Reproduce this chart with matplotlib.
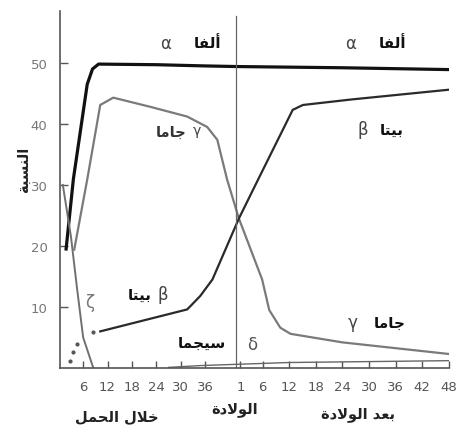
import numpy as np
import matplotlib
matplotlib.use("Agg")
import matplotlib.pyplot as plt

# postnatal weeks are drawn on the same axis, just after birth
BIRTH_X = 43.6
POST_SCALE = 1.09


def post(p):
    return BIRTH_X + POST_SCALE * np.asarray(p, dtype=float)


# ---- data (percent of globin chains) ----
alpha_pre_w = [1.8, 3.6, 7.0, 8.3, 9.8, 24, 36]
alpha_pre_v = [19.5, 31.0, 46.5, 49.0, 49.8, 49.7, 49.5]
alpha_post_p = [0, 24, 48]
alpha_post_v = [49.4, 49.2, 48.9]

gamma_pre_w = [3.8, 7.0, 10.2, 12.6, 13.4, 22.5, 31.6, 36.5, 39.0, 41.4]
gamma_pre_v = [19.4, 30.9, 43.1, 44.0, 44.3, 42.8, 41.2, 39.5, 37.4, 30.9]
gamma_post_p = [0.65, 5.9, 7.5, 10.0, 12.3, 24, 48]
gamma_post_v = [24.5, 14.5, 9.5, 6.6, 5.6, 4.2, 2.3]

beta_dots_w = [2.8, 3.5, 4.5, 8.5]
beta_dots_v = [1.1, 2.6, 3.9, 5.9]
beta_pre_w = [10.2, 31.6, 34.8, 37.8]
beta_pre_v = [6.0, 9.6, 11.8, 14.5]
beta_post_p = [0.65, 5.0, 12.8, 15.1, 26, 48]
beta_post_v = [24.5, 30.9, 42.3, 43.1, 44.0, 45.6]

zeta_w = [1.0, 3.0, 4.5, 6.0, 8.5]
zeta_v = [30.0, 21.5, 13.0, 5.0, 0.0]

delta_pre_w = [27, 35]
delta_pre_v = [0.1, 0.4]
delta_post_p = [0, 12, 48]
delta_post_v = [0.6, 0.9, 1.2]

pre_ticks = [6, 12, 18, 24, 30, 36]
post_ticks = [1, 6, 12, 18, 24, 30, 36, 42, 48]
y_ticks = [10, 20, 30, 40, 50]

# Arabic words written in presentation forms, visual order (matplotlib has no shaping)
t_alfa = "\uFE8E\uFED4\uFEDF\uFE83"          # ألفا
t_beta = "\uFE8E\uFE98\uFEF4\uFE91"          # بيتا
t_gama = "\uFE8E\uFEE3\uFE8E\uFE9F"          # جاما
t_sigma = "\uFE8E\uFEE4\uFEA0\uFEF4\uFEB3"   # سيجما
t_ratio = "\uFE94\uFE92\uFEB4\uFEE8\uFEDF\uFE8D"   # النسبة
t_preg = "\uFEDE\uFEE4\uFEA4\uFEDF\uFE8D \uFEDD\uFEFC\uFEA7"   # خلال الحمل
t_birth = "\uFE93\uFEA9\uFEFB\uFEEE\uFEDF\uFE8D"               # الولادة
t_after = "\uFE93\uFEA9\uFEFB\uFEEE\uFEDF\uFE8D \uFEAA\uFECC\uFE91"  # بعد الولادة

plt.rcParams['font.family'] = ['DejaVu Sans']
axis_col = '#555555'
tick_font = ['Liberation Sans Narrow', 'DejaVu Sans']

fig = plt.figure(figsize=(4.61, 4.39), dpi=100)
ax = fig.add_axes([60 / 461, 70 / 439, 389 / 461, 357 / 439])

# curves
ax.plot(np.r_[alpha_pre_w, post(alpha_post_p)], np.r_[alpha_pre_v, alpha_post_v],
        color='#111111', lw=2.3, solid_joinstyle='round')
ax.plot(np.r_[gamma_pre_w, post(gamma_post_p)], np.r_[gamma_pre_v, gamma_post_v],
        color='#7a7a7a', lw=1.6)
ax.plot(np.r_[beta_pre_w, post(beta_post_p)], np.r_[beta_pre_v, beta_post_v],
        color='#2a2a2a', lw=1.6)
ax.scatter(beta_dots_w, beta_dots_v, s=4, color='#555555', zorder=3)
ax.plot(zeta_w, zeta_v, color='#707070', lw=1.4)
ax.plot(np.r_[delta_pre_w, post(delta_post_p)], np.r_[delta_pre_v, delta_post_v],
        color='#666666', lw=1.0)

# birth line
ax.axvline(BIRTH_X, ymin=0, ymax=0.985, color='#666666', lw=0.9)

# axes styling
ax.set_xlim(0.3, 96)
ax.set_ylim(0, 58.5)
for side in ['top', 'right']:
    ax.spines[side].set_visible(False)
for side in ['left', 'bottom']:
    ax.spines[side].set_color(axis_col)
    ax.spines[side].set_linewidth(1.2)

ax.set_xticks(np.r_[pre_ticks, post(post_ticks)])
ax.set_xticklabels([str(t) for t in pre_ticks + post_ticks], family=tick_font)
ax.set_yticks(y_ticks)
ax.set_yticklabels([str(t) for t in y_ticks], family=tick_font)
ax.tick_params(axis='x', direction='in', length=5, width=1, color=axis_col,
               labelcolor='#555555', labelsize=9.5, pad=9)
ax.tick_params(axis='y', direction='in', length=6, width=1, color=axis_col,
               labelcolor='#777777', labelsize=9.5, pad=9)

# labels on the curves
greek = dict(color='#444444', fontsize=12, ha='center', va='center')
arab = dict(color='#111111', fontsize=11, fontweight='bold', ha='center', va='center')
ax.text(26.2, 53.3, '\u03b1', **greek)
ax.text(36.5, 53.3, t_alfa, **arab)
ax.text(71.7, 53.3, '\u03b1', **greek)
ax.text(82.2, 53.3, t_alfa, **arab)
ax.text(74.9, 39.1, '\u03b2', **greek)
ax.text(81.8, 39.1, t_beta, **arab)
ax.text(27.6, 38.7, t_gama, color='#333333', fontsize=10.5, fontweight='bold',
        ha='center', va='center')
ax.text(34.0, 39.0, '\u03b3', color='#444444', fontsize=10, ha='center', va='center')
ax.text(19.8, 12.1, t_beta, **arab)
ax.text(25.7, 12.1, '\u03b2', **greek)
ax.text(7.7, 10.8, '\u03b6', color='#777777', fontsize=12, ha='center', va='center')
ax.text(35.3, 4.2, t_sigma, **arab)
ax.text(47.6, 3.9, '\u03b4', color='#555555', fontsize=12, ha='center', va='center')
ax.text(72.4, 7.5, '\u03b3', **greek)
ax.text(81.5, 7.5, t_gama, **arab)

# axis captions
cap = dict(color='#222222', fontsize=10.5, fontweight='bold', ha='center', va='center')
fig.text(117 / 461, 1 - 417 / 439, t_preg, **cap)
fig.text(235 / 461, 1 - 410 / 439, t_birth, **cap)
fig.text(358 / 461, 1 - 415 / 439, t_after, **cap)
fig.text(23 / 461, 1 - 170 / 439, t_ratio, rotation=90, **cap)

fig.savefig('out.png', dpi=100, facecolor='white')
